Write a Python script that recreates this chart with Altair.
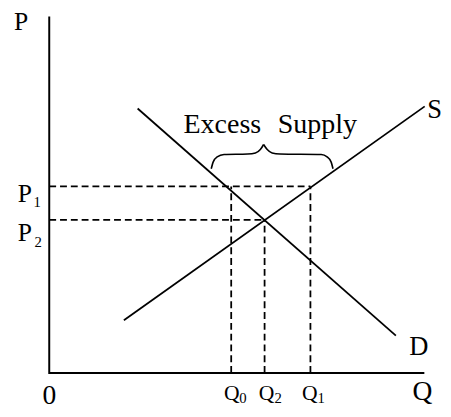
import altair as alt
import pandas as pd

# ---- data (Q and P in arbitrary units, axes run 0..10) ----
axis_max = 10.0

supply_q = [1.99, 10.01]
supply_p = [1.48, 7.48]
demand_q = [2.356, 9.241]
demand_p = [7.42, 1.047]

p1, p2 = 5.234, 4.298
q0, q2, q1 = 4.851, 5.741, 6.963

brace_left_q = [4.319, 4.372, 4.476, 4.660, 5.288, 5.497, 5.628, 5.715]
brace_left_p = [5.730, 5.923, 6.061, 6.129, 6.143, 6.171, 6.267, 6.410]
brace_right_q = [5.715, 5.812, 5.942, 6.152, 7.251, 7.408, 7.513, 7.565]
brace_right_p = [6.410, 6.267, 6.171, 6.143, 6.129, 6.061, 5.923, 5.730]

label_text = ["P", "P", "1", "P", "2", "0", "Q", "0", "Q", "2", "Q", "1",
              "Q", "S", "D", "Excess", "Supply"]
label_q = [-0.942, -0.838, -0.419, -0.838, -0.393, -0.183, 4.660, 5.065,
           5.584, 6.003, 6.736, 7.154, 9.686, 10.08, 9.60, 3.579, 6.09]
label_p = [9.62, 4.80, 4.66, 3.70, 3.53, -0.882, -0.771, -0.854,
           -0.771, -0.854, -0.771, -0.854, -0.771, 7.15, 0.51, 6.73, 6.73]
label_size = [26, 26, 15, 26, 15, 28, 22, 15, 22, 15, 22, 15, 28, 27, 27, 28.5, 28.5]

# ---- tables ----
axes_df = pd.DataFrame({"q": [0, 0, axis_max], "p": [axis_max, 0, 0], "o": [0, 1, 2]})

curves_df = pd.DataFrame({
    "q": supply_q + demand_q,
    "p": supply_p + demand_p,
    "curve": ["S"] * len(supply_q) + ["D"] * len(demand_q),
    "o": list(range(len(supply_q))) + list(range(len(demand_q))),
})

guides_df = pd.DataFrame({
    "q": [0, 0, q0, q2, q1],
    "q2": [q1, q2, q0, q2, q1],
    "p": [p1, p2, 0, 0, 0],
    "p2": [p1, p2, p1, p2, p1],
})

brace_df = pd.DataFrame({
    "q": brace_left_q + brace_right_q,
    "p": brace_left_p + brace_right_p,
    "half": ["L"] * len(brace_left_q) + ["R"] * len(brace_right_q),
    "o": list(range(len(brace_left_q))) + list(range(len(brace_right_q))),
})

labels_df = pd.DataFrame({"t": label_text, "q": label_q, "p": label_p, "s": label_size})

xs = alt.Scale(domain=[0, axis_max], nice=False, zero=False)
ys = alt.Scale(domain=[0, axis_max], nice=False, zero=False)

axes = alt.Chart(axes_df).mark_line(color="black", strokeWidth=2, strokeCap="butt",
                                    strokeJoin="miter").encode(
    x=alt.X("q:Q", scale=xs, axis=None),
    y=alt.Y("p:Q", scale=ys, axis=None),
    order="o:Q",
)

curves = alt.Chart(curves_df).mark_line(color="black", strokeWidth=1.8).encode(
    x=alt.X("q:Q", scale=xs, axis=None),
    y=alt.Y("p:Q", scale=ys, axis=None),
    detail="curve:N",
    order="o:Q",
)

guides = alt.Chart(guides_df).mark_rule(color="black", strokeWidth=1.8,
                                        strokeDash=[7, 4]).encode(
    x=alt.X("q:Q", scale=xs, axis=None),
    x2="q2:Q",
    y=alt.Y("p:Q", scale=ys, axis=None),
    y2="p2:Q",
)

brace = alt.Chart(brace_df).mark_line(color="black", strokeWidth=1.6,
                                      interpolate="monotone").encode(
    x=alt.X("q:Q", scale=xs, axis=None),
    y=alt.Y("p:Q", scale=ys, axis=None),
    detail="half:N",
    order="o:Q",
)

labels = alt.Chart(labels_df).mark_text(align="left", baseline="alphabetic",
                                        font="Liberation Serif", color="black").encode(
    x=alt.X("q:Q", scale=xs, axis=None),
    y=alt.Y("p:Q", scale=ys, axis=None),
    text="t:N",
    size=alt.Size("s:Q", scale=None, legend=None),
)

chart = alt.layer(guides, curves, brace, axes, labels).properties(
    width=382, height=363,
    padding={"left": 42, "top": 5, "right": 19, "bottom": 33},
    autosize="none",
    background="white",
).configure_view(stroke=None)

chart.save("out.html", embed_options={"renderer": "svg", "actions": False})
